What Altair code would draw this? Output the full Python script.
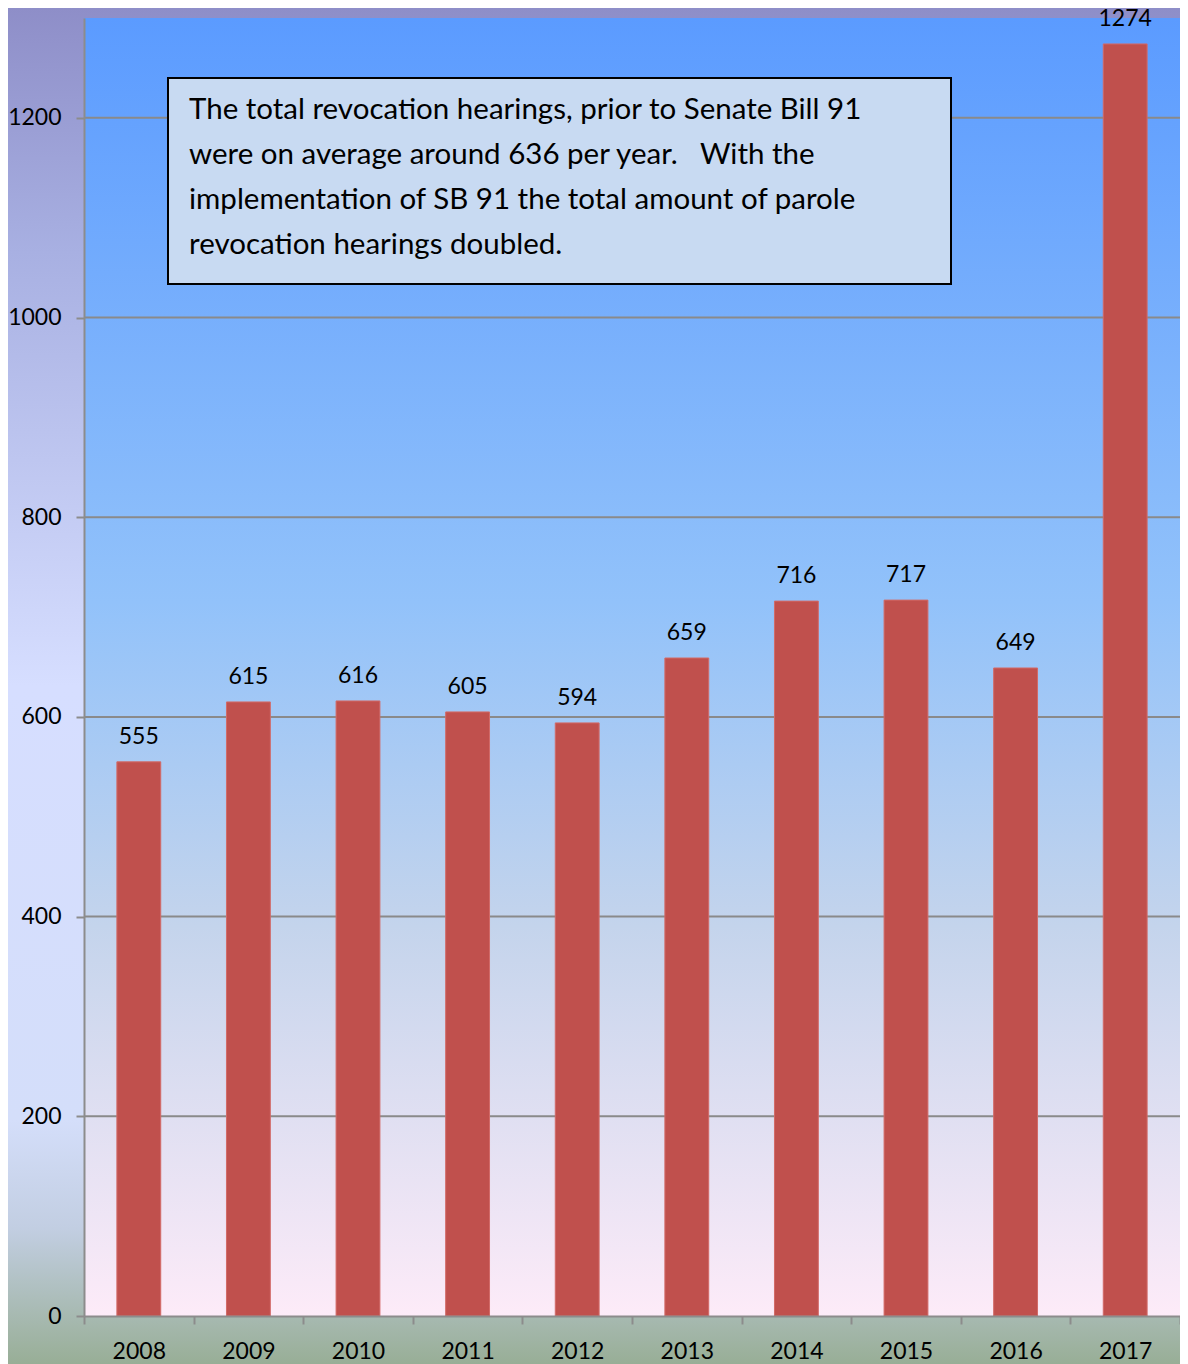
import altair as alt
import pandas as pd

years = ["2008", "2009", "2010", "2011", "2012", "2013", "2014", "2015", "2016", "2017"]
hearings = [555, 615, 616, 605, 594, 659, 716, 717, 649, 1274]
y_ticks = [0, 200, 400, 600, 800, 1000, 1200]
grid_vals = [200, 400, 600, 800, 1000, 1200]
note_lines = [
    "The total revocation hearings, prior to Senate Bill 91",
    "were on average around 636 per year.\u00a0\u00a0 With the",
    "implementation of SB 91 the total amount of parole",
    "revocation hearings doubled.",
]

FONT = "Lato"
W, H = 1096, 1298

df = pd.DataFrame({"year": years, "value": hearings})
gdf = pd.DataFrame({"value": grid_vals})
one = pd.DataFrame({"a": [0]})

x_axis = alt.Axis(labelAngle=0, tickBand="extent", tickSize=8, tickWidth=2,
                  tickColor="#8c8c8c", domainColor="#8c8c8c", domainWidth=2,
                  labelFont=FONT, labelFontSize=23, labelColor="#000000",
                  labelPadding=16, grid=False, zindex=1)
x_scale = alt.Scale(paddingInner=0, paddingOuter=0)
y_scale = alt.Scale(domain=[0, 1300], nice=False)
y_axis = alt.Axis(values=y_ticks, format="d", tickSize=8, tickWidth=2, tickColor="#8c8c8c",
                  domainColor="#8c8c8c", domainWidth=2, labelFont=FONT,
                  labelFontSize=23, labelColor="#000000", labelPadding=15,
                  grid=False, zindex=1)

x_enc = alt.X("year:N", sort=years, title=None, scale=x_scale, axis=x_axis)
y_enc = alt.Y("value:Q", scale=y_scale, title=None, axis=y_axis)

outer_bg = alt.Chart(one).mark_rect(
    color=alt.LinearGradient(
        gradient="linear", x1=0, y1=0, x2=0, y2=1,
        stops=[alt.GradientStop(offset=0, color="#8e8ec8"),
               alt.GradientStop(offset=0.18, color="#a8b0e2"),
               alt.GradientStop(offset=0.5, color="#d6deff"),
               alt.GradientStop(offset=0.82, color="#d4defa"),
               alt.GradientStop(offset=0.9, color="#c2cee2"),
               alt.GradientStop(offset=1, color="#98ae96")])
).encode(x=alt.value(-76), x2=alt.value(W + 10), y=alt.value(-10), y2=alt.value(H + 48))

plot_bg = alt.Chart(one).mark_rect(
    color=alt.LinearGradient(
        gradient="linear", x1=0, y1=0, x2=0, y2=1,
        stops=[alt.GradientStop(offset=0, color="#5b9bff"),
               alt.GradientStop(offset=0.45, color="#92c2fa"),
               alt.GradientStop(offset=0.7, color="#c4d4ec"),
               alt.GradientStop(offset=1, color="#fdebf8")])
).encode(x=alt.value(0), x2=alt.value("width"), y=alt.value(0), y2=alt.value("height"))

grid = alt.Chart(gdf).mark_rule(color="#8a8a8a", strokeWidth=2).encode(y=y_enc)

bars = alt.Chart(df).mark_bar(color="#c0504d", stroke="#d26a67", strokeWidth=1,
                              width=alt.RelativeBandSize(0.4)).encode(x=x_enc, y=y_enc)

labels = alt.Chart(df).mark_text(font=FONT, fontSize=23, color="#000000",
                                 baseline="alphabetic", dy=-18).encode(
    x=x_enc, y=y_enc, text="value:Q")

box = alt.Chart(one).mark_rect(fill="#c8daf2", stroke="#000000", strokeWidth=2).encode(
    x=alt.value(84), x2=alt.value(867), y=alt.value(60), y2=alt.value(266))

note = alt.Chart(one).mark_text(font=FONT, fontSize=29.5, color="#000000", align="left",
                                baseline="middle", lineHeight=45,
                                text=note_lines).encode(
    x=alt.value(105), y=alt.value(92))

chart = alt.layer(outer_bg, plot_bg, grid, bars, labels, box, note).properties(
    width=W, height=H,
    autosize=alt.AutoSizeParams(type="none"),
    padding={"left": 76, "top": 10, "right": 0, "bottom": 48},
).configure_view(strokeWidth=0)

chart.save("out.html", embed_options={"renderer": "svg", "actions": False})
